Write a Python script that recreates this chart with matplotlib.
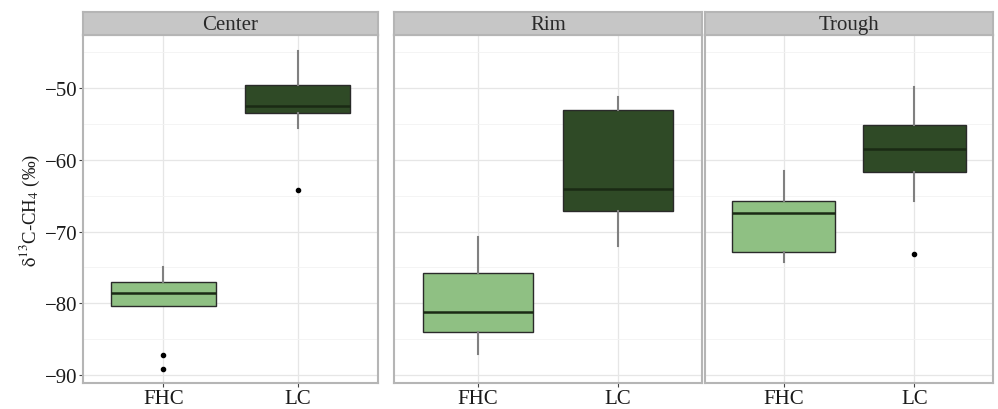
import matplotlib
matplotlib.use("Agg")
import matplotlib.pyplot as plt

plt.rcParams['font.family'] = ['Liberation Serif', 'DejaVu Serif']
plt.rcParams['mathtext.fontset'] = 'stix'

# facets and groups
sites = ['Center', 'Rim', 'Trough']
groups = ['FHC', 'LC']

# box statistics (per site: FHC, LC)
whisker_lo = {'Center': [-80.3, -55.6], 'Rim': [-87.1, -72.0], 'Trough': [-74.2, -65.8]}
q1 = {'Center': [-80.3, -53.5], 'Rim': [-84.0, -67.1], 'Trough': [-72.8, -61.7]}
median = {'Center': [-78.5, -52.5], 'Rim': [-81.2, -64.1], 'Trough': [-67.4, -58.5]}
q3 = {'Center': [-77.0, -49.5], 'Rim': [-75.8, -53.1], 'Trough': [-65.7, -55.1]}
whisker_hi = {'Center': [-75.0, -44.8], 'Rim': [-70.8, -51.3], 'Trough': [-61.6, -49.8]}
outliers = {'Center': [[-87.2, -89.1], [-64.2]], 'Rim': [[], []], 'Trough': [[], [-73.1]]}

box_colors = ['#8fc083', '#2f4a26']

fig = plt.figure(figsize=(9.98, 4.10), dpi=100)
W, H = 998.0, 410.0
panels_px = [(83, 378), (394, 702), (705, 993)]
top_px, bot_px, strip_top_px = 36, 384, 13

for i, site in enumerate(sites):
    x0, x1 = panels_px[i]
    ax = fig.add_axes([x0 / W, 1 - bot_px / H, (x1 - x0) / W, (bot_px - top_px) / H])
    stats = []
    for j, g in enumerate(groups):
        stats.append({'whislo': whisker_lo[site][j], 'q1': q1[site][j], 'med': median[site][j],
                      'q3': q3[site][j], 'whishi': whisker_hi[site][j],
                      'fliers': outliers[site][j], 'label': g})
    bp = ax.bxp(stats, positions=[1, 2], widths=0.78, patch_artist=True,
                showcaps=False,
                boxprops=dict(edgecolor='#2a2a2a', linewidth=1.0),
                medianprops=dict(color='#1a2a14', linewidth=1.8),
                whiskerprops=dict(color='#808080', linewidth=1.5),
                flierprops=dict(marker='o', markersize=3, markerfacecolor='black',
                                markeredgecolor='black'),
                zorder=3)
    for patch, c in zip(bp['boxes'], box_colors):
        patch.set_facecolor(c)

    ax.set_xlim(0.4, 2.6)
    ax.set_ylim(-91.1, -42.6)
    ax.set_yticks([-90, -80, -70, -60, -50])
    ax.set_yticks([-85, -75, -65, -55, -45], minor=True)
    ax.set_xticks([1, 2])
    ax.set_xticklabels(groups)
    ax.grid(which='major', color='#e6e6e6', linewidth=0.9, zorder=0)
    ax.grid(which='minor', axis='y', color='#f2f2f2', linewidth=0.6, zorder=0)
    ax.set_axisbelow(True)
    ax.tick_params(axis='both', which='major', length=3, color='#444444', labelsize=15,
                   labelcolor='#1a1a1a', pad=1)
    ax.tick_params(axis='y', which='minor', length=0)
    for s in ax.spines.values():
        s.set_color('#b5b5b5')
        s.set_linewidth(1.5)
    if i == 0:
        ax.set_ylabel(r'$\mathrm{\delta}^{13}$C-CH$_4$ (‰)', fontsize=13.5, labelpad=2,
                      color='#1a1a1a')
    else:
        ax.tick_params(axis='y', which='both', left=False, labelleft=False)

    # facet strip
    sax = fig.add_axes([x0 / W, 1 - top_px / H, (x1 - x0) / W, (top_px - strip_top_px) / H])
    sax.set_facecolor('#c6c6c6')
    sax.set_xticks([])
    sax.set_yticks([])
    for s in sax.spines.values():
        s.set_color('#b5b5b5')
        s.set_linewidth(1.5)
    sax.text(0.5, 0.47, site, ha='center', va='center', fontsize=15,
             color='#2a2a2a', transform=sax.transAxes)

fig.savefig('out.png', dpi=100)
